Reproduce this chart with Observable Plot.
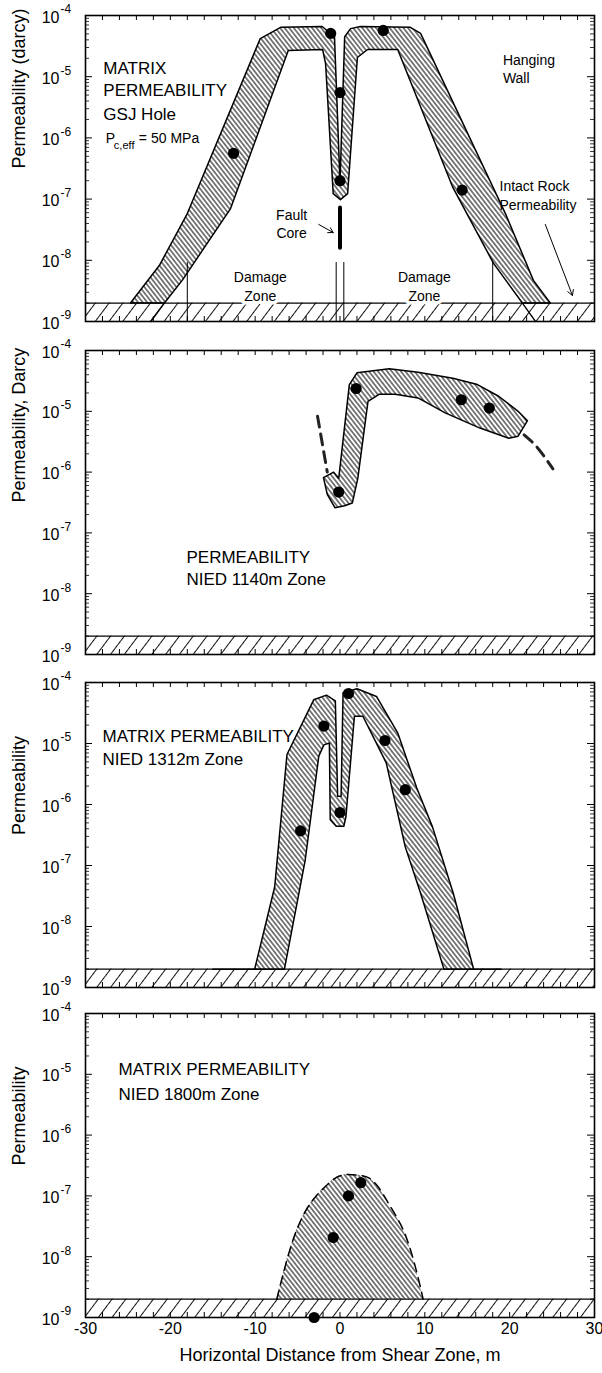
<!DOCTYPE html>
<html><head><meta charset="utf-8">
<script src="https://cdn.jsdelivr.net/npm/d3@7"></script>
<script src="https://cdn.jsdelivr.net/npm/@observablehq/plot@0.6"></script>
<style>
body{margin:0;background:#fff;}
#chart svg{display:block;overflow:visible;background:transparent}
</style></head><body><div id="chart"></div>
<script>
const FONT = "Liberation Sans, Arial, Helvetica, sans-serif";
const xDomain = [-30, 30];
const yDomain = [1e-9, 1e-4];
const xTickLabels = [-30, -20, -10, 0, 10, 20, 30];
const xMinorTicks = [-30,-28,-26,-24,-22,-20,-18,-16,-14,-12,-10,-8,-6,-4,-2,0,2,4,6,8,10,12,14,16,18,20,22,24,26,28,30];
const yMajor = [1e-9, 1e-8, 1e-7, 1e-6, 1e-5, 1e-4];
const yExponents = ["-9", "-8", "-7", "-6", "-5", "-4"];
const yMinorFactors = [2, 3, 4, 5, 6, 7, 8, 9];
const bandLow = 1e-9, bandHigh = 2e-9;
const intactBand = [{x1: -30, x2: 30, lo: bandLow, hi: bandHigh}];

// ---- Panel 1: GSJ hole ----
const p1Band = [
  [-24.7,2e-9],[-21.3,8.2e-9],[-18.0,5.8e-8],[-9.4,4.2e-5],[-7.0,6.4e-5],[-2.1,6.6e-5],
  [-0.65,4.5e-5],[0.0,1.86e-7],[0.55,4.5e-5],[1.25,6.1e-5],[2.4,6.6e-5],[8.3,6.4e-5],
  [9.5,5.1e-5],[19.5,5.8e-8],[22.8,4.7e-9],[24.8,2e-9],[21.5,2e-9],[18.1,8.9e-9],
  [13.3,1.55e-7],[6.8,2.78e-5],[3.25,2.78e-5],[2.05,2.06e-5],[0.9,1.23e-7],[0.05,9.8e-8],
  [-0.8,1.23e-7],[-1.7,1.64e-5],[-2.05,2.78e-5],[-6.1,2.68e-5],[-12.9,7.0e-8],[-18.6,4.7e-9],
  [-20.7,2e-9]
];
const p1Ext1 = [[-20.7,2e-9],[-22.3,1e-9]];
const p1Ext2 = [[21.5,2e-9],[23.05,1e-9]];
const p1Core = [[0,7.3e-8],[0,1.6e-8]];
const p1Dots = [[-12.55,5.6e-7],[-1.1,5.1e-5],[0,5.5e-6],[0,2.0e-7],[5.1,5.7e-5],[14.4,1.4e-7]];
const p1DamageX = [-18, -0.45, 0.45, 18];
const p1DamageTop = 9.2e-9;
const p1Labels = [
  {x:-27.9, y:1.36e-5, t:"MATRIX"},
  {x:-27.9, y:5.96e-6, t:"PERMEABILITY"},
  {x:-27.9, y:2.41e-6, t:"GSJ Hole"}
];
const p1Pc = {x:-27.6, y:9.8e-7};
const p1Core2 = [
  {x:-5.7, y:5.4e-8, t:"Fault"},
  {x:-5.7, y:2.75e-8, t:"Core"}
];
const p1Right = [
  {x:19.2, y:1.84e-5, t:"Hanging"},
  {x:19.2, y:9.3e-6, t:"Wall"},
  {x:18.8, y:1.6e-7, t:"Intact Rock"},
  {x:18.8, y:7.85e-8, t:"Permeability"}
];
const p1Damage = [
  {x:-9.4, y:5.2e-9, t:"Damage"}, {x:-9.4, y:2.57e-9, t:"Zone"},
  {x:9.95, y:5.2e-9, t:"Damage"}, {x:9.95, y:2.57e-9, t:"Zone"}
];
const p1Arrows = [
  {x1:-2.5, y1:3.85e-8, x2:-0.8, y2:2.84e-8},
  {x1:24.2, y1:3.85e-8, x2:27.4, y2:2.66e-9}
];

// ---- Panel 2: NIED 1140 m ----
const p2Band = [
  [2.0,4.3e-5],[5.8,5.0e-5],[9.2,4.4e-5],[13.3,3.5e-5],[16.2,2.75e-5],[18.7,1.77e-5],
  [21.0,1.0e-5],[22.1,7.0e-6],[21.0,3.9e-6],[19.9,3.6e-6],[16.5,5.3e-6],[12.4,9.4e-6],
  [9.2,1.66e-5],[6.5,1.9e-5],[4.6,1.9e-5],[3.3,1.46e-5],[2.1,7.9e-7],[1.45,3.1e-7],
  [0.55,2.8e-7],[-0.6,2.6e-7],[-1.5,4.3e-7],[-1.95,8.1e-7],[-0.75,1.0e-6],[-0.15,7.9e-7],
  [1.1,2.75e-5]
];
const p2Dots = [[-0.15,4.7e-7],[1.9,2.37e-5],[14.3,1.55e-5],[17.6,1.13e-5]];
const p2DashL = [[-2.65,8.3e-6],[-1.5,1.0e-6]];
const p2DashR = [[21.7,4.1e-6],[23.3,2.5e-6],[25.1,1.13e-6]];
const p2Labels = [
  {x:-18.1, y:3.9e-8, t:"PERMEABILITY"},
  {x:-18.1, y:1.68e-8, t:"NIED 1140m Zone"}
];

// ---- Panel 3: NIED 1312 m ----
const p3Band = [
  [-10.06,2e-9],[-7.7,4.45e-8],[-6.25,6.6e-6],[-3.1,5.2e-5],[-1.6,6.2e-5],[-0.55,5.0e-5],
  [-0.28,1.36e-6],[0.13,1.36e-6],[0.36,6.8e-5],[2.0,7.9e-5],[4.3,5.9e-5],[6.8,1.5e-5],
  [9.05,1.86e-6],[10.9,4.3e-7],[13.35,3.5e-8],[15.75,2e-9],[12.25,2e-9],[9.5,3.5e-8],
  [7.7,2.0e-7],[5.45,4.8e-6],[2.7,2.8e-5],[1.7,2.8e-5],[0.7,6.3e-7],[0.45,4.4e-7],
  [-0.45,4.4e-7],[-1.15,5.6e-7],[-1.25,1.02e-5],[-1.9,9.5e-6],[-2.5,6.2e-6],[-4.1,1.23e-7],
  [-6.55,2e-9]
];
const p3Ext1 = [[-15,2e-9],[-10.06,2e-9]];
const p3Ext2 = [[15.75,2e-9],[19,2e-9]];
const p3Dots = [[-4.65,3.7e-7],[-1.9,1.93e-5],[0,7.4e-7],[1.0,6.6e-5],[5.3,1.12e-5],[7.7,1.75e-6]];
const p3Labels = [
  {x:-28.0, y:1.29e-5, t:"MATRIX PERMEABILITY"},
  {x:-28.0, y:5.4e-6, t:"NIED 1312m Zone"}
];

// ---- Panel 4: NIED 1800 m ----
const p4Bell = [
  [-7.45,2e-9],[-6.7,5.2e-9],[-5.55,1.86e-8],[-4.2,5.2e-8],[-2.85,9.8e-8],[-1.3,1.62e-7],
  [-0.15,2.1e-7],[1.0,2.25e-7],[2.35,2.17e-7],[3.45,1.96e-7],[4.6,1.35e-7],[5.7,7.6e-8],
  [7.1,3.5e-8],[8.2,1.45e-8],[9.1,5.2e-9],[9.8,2e-9]
];
const p4Dots = [[-0.8,2.07e-8],[1.0,1.0e-7],[2.45,1.65e-7],[-3.05,1.0e-9]];
const p4Labels = [
  {x:-26.1, y:1.18e-5, t:"MATRIX PERMEABILITY"},
  {x:-26.1, y:4.7e-6, t:"NIED 1800m Zone"}
];

const yMinor = yMajor.slice(0, -1).flatMap(d => yMinorFactors.map(k => d * k));
const X = d => d[0], Y = d => d[1];

function addPatterns(svg, id) {
  const defs = d3.select(svg).insert("defs", ":first-child");
  const p = defs.append("pattern").attr("id", "poly" + id)
    .attr("patternUnits", "userSpaceOnUse").attr("width", 3.6).attr("height", 10)
    .attr("patternTransform", "rotate(-38)");
  p.append("line").attr("x1", 1.8).attr("x2", 1.8).attr("y1", -1).attr("y2", 11)
    .attr("stroke", "#000").attr("stroke-width", 1);
  const b = defs.append("pattern").attr("id", "band" + id)
    .attr("patternUnits", "userSpaceOnUse").attr("width", 11).attr("height", 20)
    .attr("patternTransform", "rotate(37)");
  b.append("line").attr("x1", 5.5).attr("x2", 5.5).attr("y1", -1).attr("y2", 21)
    .attr("stroke", "#111").attr("stroke-width", 1);
}

function panel(cfg) {
  const pw = 602 - 85 - 8;
  const ph = cfg.height - cfg.marginTop - cfg.marginBottom;
  const id = cfg.id;
  const marks = [
    Plot.rect(intactBand, {x1: "x1", x2: "x2", y1: "lo", y2: "hi", fill: `url(#band${id})`}),
    Plot.ruleY([bandHigh], {stroke: "black", strokeWidth: 1.2}),
    ...cfg.marks(id),
    Plot.ruleX(xMinorTicks, {x: d => d, insetTop: ph - 5, stroke: "black", strokeWidth: 1}),
    Plot.ruleX(xMinorTicks, {x: d => d, insetBottom: ph - 5, stroke: "black", strokeWidth: 1}),
    Plot.ruleY(yMajor, {y: d => d, insetRight: pw - 7, stroke: "black", strokeWidth: 1}),
    Plot.ruleY(yMajor, {y: d => d, insetLeft: pw - 7, stroke: "black", strokeWidth: 1}),
    Plot.ruleY(yMinor, {y: d => d, insetRight: pw - 4, stroke: "black", strokeWidth: 0.8}),
    Plot.ruleY(yMinor, {y: d => d, insetLeft: pw - 4, stroke: "black", strokeWidth: 0.8}),
    Plot.frame({stroke: "black", strokeWidth: 1.6}),
    Plot.text(yMajor, {frameAnchor: "left", y: d => d, text: () => "10", textAnchor: "end", dx: -26, dy: 2, fontSize: 16, fill: "black"}),
    Plot.text(yMajor, {frameAnchor: "left", y: d => d, text: (d, i) => yExponents[i], textAnchor: "start", dx: -25, dy: -6, fontSize: 12, fill: "black"}),
    Plot.text([cfg.yLabel], {frameAnchor: "left", text: d => d, rotate: -90, dx: -66, fontSize: 18, fill: "black"})
  ];
  if (cfg.showX) {
    marks.push(Plot.text(xTickLabels, {x: d => d, frameAnchor: "bottom", dy: 16, text: d => String(d), fontSize: 16, fill: "black"}));
    marks.push(Plot.text(["Horizontal Distance from Shear Zone, m"], {frameAnchor: "bottom", text: d => d, dy: 43, fontSize: 18, fill: "black"}));
  }
  const svg = Plot.plot({
    width: 602, height: cfg.height,
    marginLeft: 85, marginRight: 8, marginTop: cfg.marginTop, marginBottom: cfg.marginBottom,
    x: {domain: xDomain, axis: null},
    y: {type: "log", domain: yDomain, axis: null},
    style: {fontFamily: FONT, background: "transparent", overflow: "visible", color: "black"},
    marks
  });
  addPatterns(svg, id);
  return svg;
}

const dotOpts = {x: X, y: Y, r: 5.6, fill: "black", stroke: "none"};
const bigText = (data) => Plot.text(data, {x: "x", y: "y", text: "t", textAnchor: "start", fontSize: 17, fill: "black"});

const chart = document.getElementById("chart");

chart.appendChild(panel({
  id: 1, height: 335, marginTop: 15, marginBottom: 14, yLabel: "Permeability (darcy)",
  marks: id => [
    Plot.line(p1Band, {x: X, y: Y, curve: "linear-closed", fill: `url(#poly${id})`, stroke: "black", strokeWidth: 1.5}),
    Plot.line(p1Ext1, {x: X, y: Y, stroke: "black", strokeWidth: 1.3}),
    Plot.line(p1Ext2, {x: X, y: Y, stroke: "black", strokeWidth: 1.3}),
    Plot.ruleX(p1DamageX, {x: d => d, y1: () => bandLow, y2: () => p1DamageTop, stroke: "black", strokeWidth: 1}),
    Plot.line(p1Core, {x: X, y: Y, stroke: "black", strokeWidth: 4, strokeLinecap: "round"}),
    Plot.dot(p1Dots, dotOpts),
    bigText(p1Labels),
    Plot.text([p1Pc], {x: "x", y: "y", text: () => "P", textAnchor: "start", fontSize: 14, fill: "black"}),
    Plot.text([p1Pc], {x: "x", y: "y", text: () => "c,eff", textAnchor: "start", dx: 8, dy: 7, fontSize: 11, fill: "black"}),
    Plot.text([p1Pc], {x: "x", y: "y", text: () => "= 50 MPa", textAnchor: "start", dx: 33, fontSize: 14, fill: "black"}),
    Plot.text(p1Core2, {x: "x", y: "y", text: "t", textAnchor: "middle", fontSize: 14, fill: "black"}),
    Plot.text(p1Right, {x: "x", y: "y", text: "t", textAnchor: "start", fontSize: 14, fill: "black"}),
    Plot.text(p1Damage, {x: "x", y: "y", text: "t", textAnchor: "middle", fontSize: 14, fill: "black", stroke: "white", strokeWidth: 7}),
    Plot.arrow(p1Arrows, {x1: "x1", y1: "y1", x2: "x2", y2: "y2", stroke: "black", strokeWidth: 1, headLength: 9})
  ]
}));

chart.appendChild(panel({
  id: 2, height: 333, marginTop: 15, marginBottom: 14, yLabel: "Permeability, Darcy",
  marks: id => [
    Plot.line(p2Band, {x: X, y: Y, curve: "linear-closed", fill: `url(#poly${id})`, stroke: "black", strokeWidth: 1.5}),
    Plot.line(p2DashL, {x: X, y: Y, stroke: "#222", strokeWidth: 3, strokeDasharray: "11,7"}),
    Plot.line(p2DashR, {x: X, y: Y, stroke: "#222", strokeWidth: 3, strokeDasharray: "11,7", curve: "natural"}),
    Plot.dot(p2Dots, dotOpts),
    bigText(p2Labels)
  ]
}));

chart.appendChild(panel({
  id: 3, height: 332, marginTop: 14, marginBottom: 13, yLabel: "Permeability",
  marks: id => [
    Plot.line(p3Band, {x: X, y: Y, curve: "linear-closed", fill: `url(#poly${id})`, stroke: "black", strokeWidth: 1.5}),
    Plot.line(p3Ext1, {x: X, y: Y, stroke: "black", strokeWidth: 1.5}),
    Plot.line(p3Ext2, {x: X, y: Y, stroke: "black", strokeWidth: 1.5}),
    Plot.dot(p3Dots, dotOpts),
    bigText(p3Labels)
  ]
}));

chart.appendChild(panel({
  id: 4, height: 373, marginTop: 13, marginBottom: 56, yLabel: "Permeability", showX: true,
  marks: id => [
    Plot.areaY(p4Bell, {x: X, y1: () => bandHigh, y2: Y, fill: `url(#poly${id})`, curve: "natural"}),
    Plot.line(p4Bell, {x: X, y: Y, stroke: "black", strokeWidth: 1.5, strokeDasharray: "9,6", curve: "natural"}),
    Plot.dot(p4Dots, dotOpts),
    bigText(p4Labels)
  ]
}));
</script></body></html>
